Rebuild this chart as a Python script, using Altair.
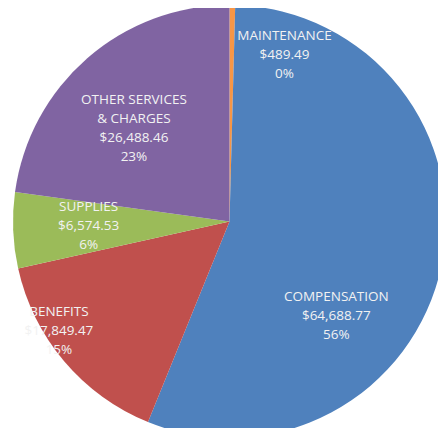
import altair as alt
import pandas as pd

categories = ["MAINTENANCE", "COMPENSATION", "BENEFITS", "SUPPLIES", "OTHER SERVICES\n& CHARGES"]
amounts = [489.49, 64688.77, 17849.47, 6574.53, 26488.46]
colors = ["#F79646", "#4F81BD", "#C0504D", "#9BBB59", "#8064A2"]

total = sum(amounts)
labels = [
    f"{c}\n${a:,.2f}\n{round(a / total * 100):.0f}%"
    for c, a in zip(categories, amounts)
]
df = pd.DataFrame({
    "category": categories,
    "amount": amounts,
    "order": list(range(len(categories))),
    "label": labels,
})

W, H = 430, 420
CX, CY = 221.5, 213.5
R = 216.5
LH = 19

base = alt.Chart(df).encode(
    theta=alt.Theta("amount:Q", stack=True),
    order=alt.Order("order:Q"),
    x=alt.value(CX),
    y=alt.value(CY),
)

pie = base.mark_arc(radius=R).encode(
    color=alt.Color("category:N", scale=alt.Scale(domain=categories, range=colors), legend=None)
)

# Excel "best fit" label nudges relative to the slice mid-angle position
nudges = [(53, -17), (-40, 64), (-56, 13), (9, -2), (3, 20)]

layers = [pie]
for i, (ndx, ndy) in enumerate(nudges):
    nlines = labels[i].count("\n") + 1
    layers.append(
        base.transform_calculate(
            shown=f"datum.order == {i} ? datum.label : ''"
        ).mark_text(
            radius=150, lineBreak="\n", font="Open Sans", fontSize=13.5, color="#F2F2F2",
            baseline="middle", align="center", lineHeight=LH,
            dx=ndx, dy=ndy - (nlines - 1) * LH / 2,
        ).encode(text="shown:N")
    )

chart = alt.layer(*layers).properties(
    width=W, height=H,
    autosize=alt.AutoSizeParams(type="none"),
    padding=0,
).configure_view(stroke=None)

chart.save("out.html", embed_options={"renderer": "svg", "actions": False})
